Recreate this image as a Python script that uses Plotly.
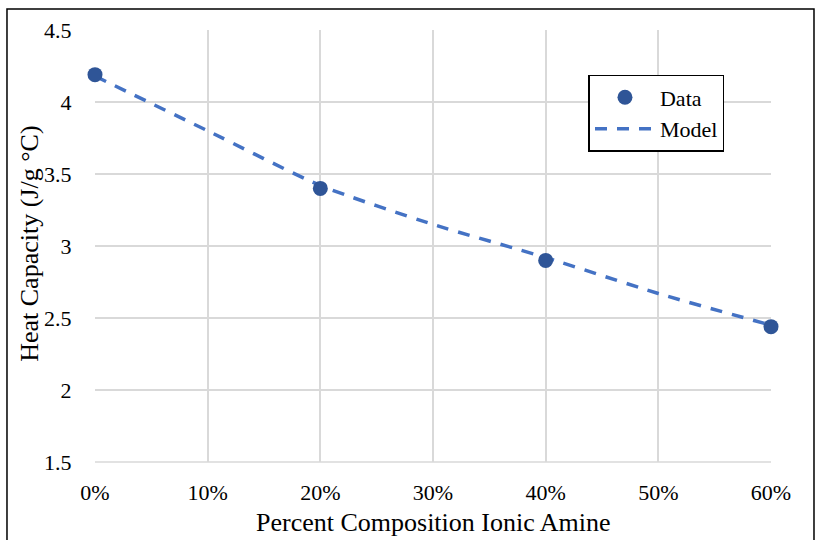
import plotly.graph_objects as go

# Measured heat capacity versus ionic amine fraction
data_x = [0.0, 0.20, 0.40, 0.60]
data_cp = [4.19, 3.40, 2.90, 2.44]

# Model curve
model_x = [0.0, 0.10, 0.20, 0.30, 0.40, 0.50, 0.60]
model_cp = [4.18, 3.80, 3.42, 3.15, 2.92, 2.67, 2.45]

x_ticks = [0.0, 0.1, 0.2, 0.3, 0.4, 0.5, 0.6]
x_tick_text = ["0%", "10%", "20%", "30%", "40%", "50%", "60%"]
y_ticks = [1.5, 2, 2.5, 3, 3.5, 4, 4.5]
y_tick_text = ["1.5", "2", "2.5", "3", "3.5", "4", "4.5"]

x_title = "Percent Composition Ionic Amine"
y_title = "Heat Capacity (J/g °C)"

FONT = "Liberation Serif"

fig = go.Figure()
fig.add_trace(go.Scatter(
    x=model_x, y=model_cp, mode="lines", name="Model",
    line=dict(color="#4472C4", width=3.5, dash="12px,10px", shape="spline", smoothing=0.6),
    cliponaxis=False,
))
fig.add_trace(go.Scatter(
    x=data_x, y=data_cp, mode="markers", name="Data",
    marker=dict(color="#2F5597", size=15),
    cliponaxis=False,
))

grid = "#d9d9d9"
fig.update_layout(
    width=821, height=540,
    margin=dict(l=95, r=50, t=30, b=78),
    paper_bgcolor="white", plot_bgcolor="white",
    font=dict(family=FONT, size=22, color="black"),
    showlegend=True,
    legend=dict(
        x=0.73, y=0.896, xanchor="left", yanchor="top",
        bordercolor="black", borderwidth=1.5, bgcolor="white",
        font=dict(family=FONT, size=22, color="black"), traceorder="reversed",
        itemwidth=60, tracegroupgap=0,
    ),
    xaxis=dict(
        range=[0, 0.6], tickvals=x_ticks, ticktext=x_tick_text,
        showgrid=True, gridcolor=grid, gridwidth=1.5,
        zeroline=False, showline=False, automargin=False,
        ticks="outside", ticklen=11, tickcolor="rgba(0,0,0,0)",
        tickfont=dict(family=FONT, size=22, color="black"),
    ),
    yaxis=dict(
        range=[1.5, 4.5], tickvals=y_ticks, ticktext=y_tick_text,
        showgrid=True, gridcolor=grid, gridwidth=1.5,
        zeroline=False, showline=False, automargin=False,
        ticks="outside", ticklen=18, tickcolor="rgba(0,0,0,0)",
        tickfont=dict(family=FONT, size=22, color="black"),
    ),
)

# Axis titles
fig.add_annotation(text=x_title, xref="paper", yref="paper", x=0.501, y=-0.141,
                   showarrow=False, xanchor="center", yanchor="middle",
                   font=dict(family=FONT, size=26, color="black"))
fig.add_annotation(text=y_title, xref="paper", yref="paper", x=-0.0962, y=0.505,
                   showarrow=False, xanchor="center", yanchor="middle", textangle=-90,
                   font=dict(family=FONT, size=26, color="black"))

# Bottom baseline in grid colour
fig.add_shape(type="line", xref="paper", yref="paper", x0=0, x1=1, y0=0, y1=0,
              line=dict(color=grid, width=1.5), layer="below")
# Outer chart frame
fig.add_shape(type="rect", xref="paper", yref="paper",
              x0=-0.1302, x1=1.0636, y0=-0.2, y1=1.0486,
              line=dict(color="black", width=1.5), fillcolor="rgba(0,0,0,0)")

fig.write_html("out.html")
